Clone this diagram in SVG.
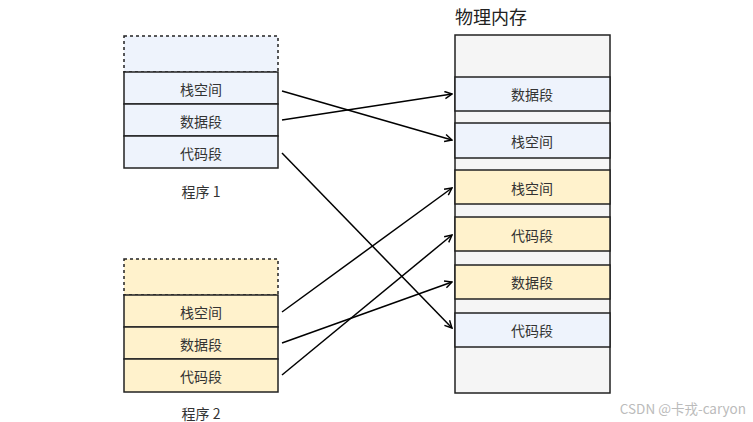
<svg xmlns="http://www.w3.org/2000/svg" width="753" height="422" viewBox="0 0 753 422">
<style>
  .t{font-family:"Noto Sans CJK SC","Noto Sans",sans-serif;font-size:14px;fill:#333;text-anchor:middle;dominant-baseline:central}
  .blue{fill:#EEF3FC;stroke:#222;stroke-width:1.5}
  .yel{fill:#FFF2CC;stroke:#222;stroke-width:1.5}
  .gray{fill:#F5F5F5;stroke:#222;stroke-width:1.5}
  .dash{stroke-dasharray:3 3}
  .ln{fill:none;stroke:#000;stroke-width:1.5;marker-end:url(#a)}
</style>
<defs>
  <marker id="a" viewBox="0 0 10 10" refX="9" refY="5" markerWidth="9" markerHeight="9" markerUnits="userSpaceOnUse" orient="auto">
    <path d="M1,1 L9,5 L1,9" fill="none" stroke="#000" stroke-width="1.6"/>
  </marker>
</defs>
<rect width="753" height="422" fill="#fff"/>
<g id="prog1">
  <rect class="blue dash" x="124" y="36" width="154" height="36"/>
  <rect class="blue" x="124" y="72" width="154" height="32"/>
  <text class="t" x="201" y="88.5">栈空间</text>
  <rect class="blue" x="124" y="104" width="154" height="32"/>
  <text class="t" x="201" y="120.5">数据段</text>
  <rect class="blue" x="124" y="136" width="154" height="32"/>
  <text class="t" x="201" y="152.5">代码段</text>
  <text class="t" x="201" y="191">程序 1</text>
</g>
<g id="prog2">
  <rect class="yel dash" x="124" y="259" width="154" height="36"/>
  <rect class="yel" x="124" y="295" width="154" height="32"/>
  <text class="t" x="201" y="311.5">栈空间</text>
  <rect class="yel" x="124" y="327" width="154" height="32"/>
  <text class="t" x="201" y="343.5">数据段</text>
  <rect class="yel" x="124" y="359" width="154" height="33"/>
  <text class="t" x="201" y="375.5">代码段</text>
  <text class="t" x="201" y="413">程序 2</text>
</g>
<g id="mem">
  <text x="455" y="16" style="font-family:'Noto Sans CJK SC','Noto Sans',sans-serif;font-size:18px;fill:#222;dominant-baseline:central">物理内存</text>
  <rect class="gray" x="455" y="35" width="155" height="358"/>
  <rect class="blue" x="455" y="77" width="155" height="34"/>
  <text class="t" x="532" y="94">数据段</text>
  <rect class="blue" x="455" y="123" width="155" height="35"/>
  <text class="t" x="532" y="141">栈空间</text>
  <rect class="yel" x="455" y="170" width="155" height="34"/>
  <text class="t" x="532" y="188">栈空间</text>
  <rect class="yel" x="455" y="217" width="155" height="34"/>
  <text class="t" x="532" y="235">代码段</text>
  <rect class="yel" x="455" y="265" width="155" height="34"/>
  <text class="t" x="532" y="282">数据段</text>
  <rect class="blue" x="455" y="313" width="155" height="34"/>
  <text class="t" x="532" y="330">代码段</text>
</g>
<g id="connectors">
  <path class="ln" d="M282,91 L452,140"/>
  <path class="ln" d="M282,120 L452,94"/>
  <path class="ln" d="M282,153 L452,328"/>
  <path class="ln" d="M282,312 L452,188"/>
  <path class="ln" d="M282,343 L452,282"/>
  <path class="ln" d="M282,375 L452,235"/>
</g>
<text x="746" y="408" style="font-family:'Noto Sans CJK SC','Noto Sans',sans-serif;font-size:13.5px;fill:#bbb;text-anchor:end;dominant-baseline:central">CSDN @卡戎-caryon</text>
</svg>
